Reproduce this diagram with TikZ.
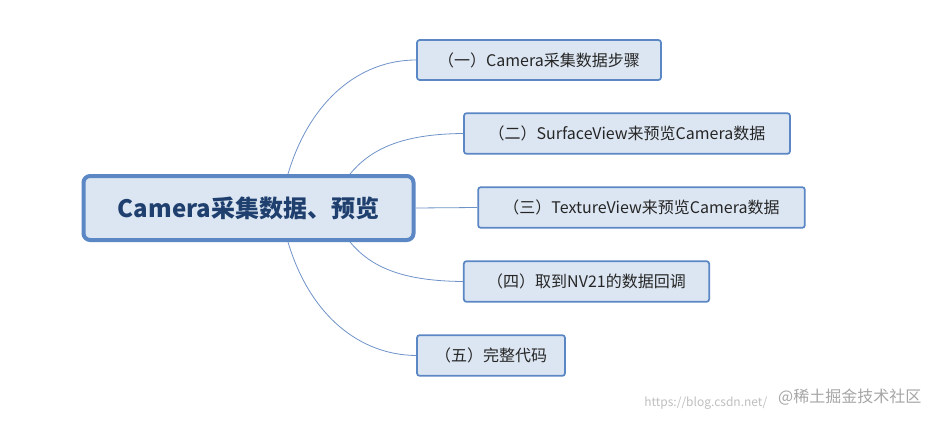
\documentclass[tikz,border=0pt]{standalone}
\usepackage{fontspec}
\setmainfont{Noto Sans CJK SC}
\definecolor{bfill}{HTML}{DCE6F2}
\definecolor{bline}{HTML}{5B87C5}
\definecolor{btext}{HTML}{1F3F6E}
\definecolor{cline}{HTML}{6F93C8}
\begin{document}
\begin{tikzpicture}[x=0.75pt,y=-0.75pt,
  sub/.style={draw=bline,line width=1.3pt,fill=bfill,rounded corners=2pt,inner sep=0pt,font=\fontsize{12}{14}\selectfont,text=black!85},
  conn/.style={draw=cline,line width=0.6pt}]
\useasboundingbox (0,0) rectangle (939,421);
\fill[white] (0,0) rectangle (939,421);
\node[draw=bline,line width=3pt,fill=bfill,rounded corners=5pt,minimum width=247.5pt,minimum height=48pt,font=\bfseries\fontsize{18}{20}\selectfont,text=btext] (c) at (248.5,208) {Camera采集数据、预览};
\node[sub,minimum width=183pt,minimum height=30pt] (n1) at (539,60) {（一）Camera采集数据步骤};
\node[sub,minimum width=244.5pt,minimum height=30.5pt] (n2) at (627,133.5) {（二）SurfaceView来预览Camera数据};
\node[sub,minimum width=245pt,minimum height=30.5pt] (n3) at (641.5,207.5) {（三）TextureView来预览Camera数据};
\node[sub,minimum width=184pt,minimum height=30.5pt] (n4) at (586.5,281.5) {（四）取到NV21的数据回调};
\node[sub,minimum width=111pt,minimum height=30.5pt] (n5) at (491,355.5) {（五）完整代码};
\coordinate (a1) at (288,174);
\coordinate (a2) at (350,174);
\coordinate (a4) at (350,242);
\coordinate (a5) at (288,242);
\draw[conn] (a1) .. controls (310,100) and (360,60) .. (n1.west);
\draw[conn] (a2) .. controls (370,150) and (400,134) .. (n2.west);
\draw[conn] (c.east) -- (n3.west);
\draw[conn] (a4) .. controls (370,266) and (400,281) .. (n4.west);
\draw[conn] (a5) .. controls (310,316) and (360,355) .. (n5.west);
\node[anchor=east,text=black!25,font=\fontsize{9}{10}\selectfont] (w1) at (772,403) {https://blog.csdn.net/};
\node[anchor=east,text=black!35,font=\fontsize{12}{14}\selectfont] (w2) at (926,397) {@稀土掘金技术社区};
\end{tikzpicture}
\end{document}
